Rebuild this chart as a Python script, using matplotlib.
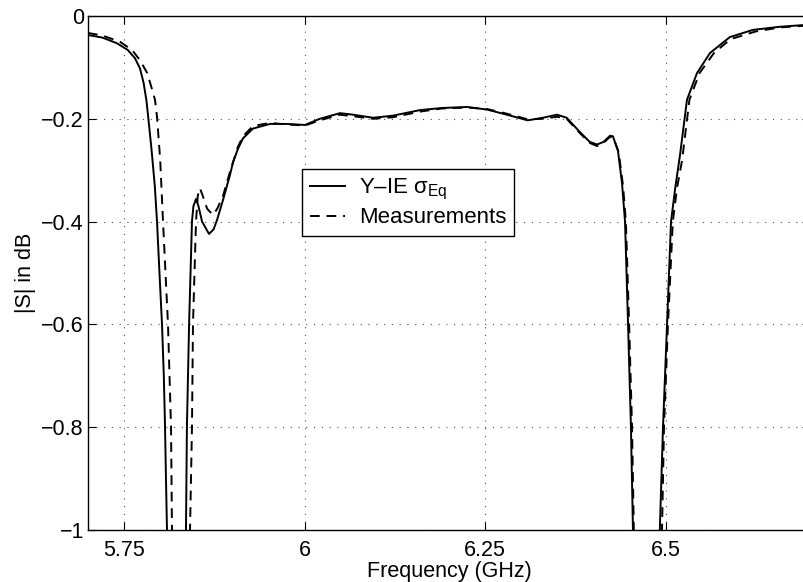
import matplotlib
matplotlib.use("Agg")
import matplotlib.pyplot as plt

plt.rcParams['font.family'] = ['Liberation Sans', 'DejaVu Sans']
plt.rcParams['mathtext.fontset'] = 'custom'
plt.rcParams['mathtext.rm'] = 'Liberation Sans'
plt.rcParams['mathtext.it'] = 'Liberation Sans:italic'

# Y-IE sigma_Eq (solid)
f_sim = [5.700, 5.720, 5.740, 5.755, 5.765, 5.772, 5.777, 5.781, 5.784, 5.788,
         5.7925, 5.7956, 5.799, 5.8025, 5.805, 5.8067, 5.808, 5.8094, 5.812, 5.833,
         5.8357, 5.837, 5.840, 5.842, 5.844, 5.846, 5.8496, 5.853, 5.858, 5.8676,
         5.874, 5.8787, 5.887, 5.8967, 5.9008, 5.9078, 5.9147, 5.9285, 5.952, 5.9756,
         6.0006, 6.021, 6.049, 6.067, 6.095, 6.122, 6.160, 6.190, 6.225, 6.2526,
         6.280, 6.309, 6.330, 6.3496, 6.363, 6.3814, 6.395, 6.405, 6.414, 6.423,
         6.427, 6.434, 6.4396, 6.4438, 6.448, 6.452, 6.4548, 6.457, 6.490, 6.492,
         6.4964, 6.502, 6.5075, 6.5135, 6.520, 6.5296, 6.5435, 6.5615, 6.589, 6.621,
         6.658, 6.692]
s_sim = [-0.037, -0.042, -0.053, -0.066, -0.082, -0.102, -0.130, -0.165, -0.205, -0.260,
         -0.33, -0.40, -0.50, -0.60, -0.70, -0.80, -0.90, -1.00, -1.20, -1.20,
         -1.00, -0.80, -0.60, -0.50, -0.40, -0.37, -0.356, -0.37, -0.40, -0.424,
         -0.415, -0.397, -0.358, -0.309, -0.285, -0.258, -0.238, -0.219, -0.210, -0.210,
         -0.212, -0.200, -0.189, -0.192, -0.198, -0.194, -0.183, -0.179, -0.177, -0.182,
         -0.192, -0.203, -0.198, -0.192, -0.198, -0.226, -0.245, -0.250, -0.245, -0.233,
         -0.234, -0.262, -0.325, -0.40, -0.60, -0.80, -1.00, -1.20, -1.20, -1.00,
         -0.80, -0.60, -0.40, -0.333, -0.270, -0.163, -0.111, -0.072, -0.041, -0.027,
         -0.021, -0.0175]

# Measurements (dashed)
f_meas = [5.700, 5.720, 5.744, 5.761, 5.772, 5.782, 5.789, 5.7928, 5.7956, 5.800,
          5.8039, 5.8108, 5.815, 5.8163, 5.818, 5.839, 5.8413, 5.844, 5.8454, 5.8475,
          5.8496, 5.852, 5.855, 5.859, 5.865, 5.873, 5.879, 5.887, 5.8967, 5.9078,
          5.9147, 5.9285, 5.952, 5.9756, 6.0006, 6.021, 6.049, 6.067, 6.095, 6.122,
          6.160, 6.190, 6.225, 6.2526, 6.280, 6.309, 6.330, 6.3496, 6.363, 6.3814,
          6.395, 6.405, 6.414, 6.423, 6.428, 6.435, 6.441, 6.445, 6.4495, 6.4535,
          6.456, 6.458, 6.493, 6.495, 6.4978, 6.5033, 6.510, 6.516, 6.5229, 6.533,
          6.547, 6.567, 6.590, 6.625, 6.660, 6.692]
s_meas = [-0.033, -0.038, -0.050, -0.066, -0.086, -0.111, -0.144, -0.163, -0.196, -0.28,
          -0.40, -0.60, -0.80, -1.00, -1.20, -1.20, -1.00, -0.80, -0.60, -0.50,
          -0.40, -0.35, -0.335, -0.35, -0.375, -0.387, -0.375, -0.35, -0.303, -0.254,
          -0.234, -0.214, -0.208, -0.211, -0.213, -0.203, -0.192, -0.195, -0.200, -0.197,
          -0.186, -0.180, -0.178, -0.181, -0.190, -0.201, -0.200, -0.196, -0.200, -0.228,
          -0.247, -0.253, -0.247, -0.235, -0.238, -0.265, -0.33, -0.40, -0.60, -0.80,
          -1.00, -1.20, -1.20, -1.00, -0.80, -0.60, -0.40, -0.333, -0.28, -0.163,
          -0.111, -0.072, -0.045, -0.030, -0.022, -0.019]

xticks = [5.75, 6.0, 6.25, 6.5]
xticklabels = ['5.75', '6', '6.25', '6.5']
yticks = [0, -0.2, -0.4, -0.6, -0.8, -1.0]
yticklabels = ['0', '\u22120.2', '\u22120.4', '\u22120.6', '\u22120.8', '\u22121']

fig = plt.figure(figsize=(8.04, 5.82), dpi=100)
ax = fig.add_axes([88/804, 52/582, 722/804, 514/582])

ax.plot(f_sim, s_sim, color='black', lw=1.4, linestyle='-', label='Y\u2013IE \u03c3$_{\\mathrm{Eq}}$')
ax.plot(f_meas, s_meas, color='black', lw=1.4, linestyle=(0, (5, 3.5)), label='Measurements')

ax.set_xlim(5.7, 6.7)
ax.set_ylim(-1, 0)
ax.set_xticks(xticks)
ax.set_xticklabels(xticklabels)
ax.set_yticks(yticks)
ax.set_yticklabels(yticklabels)
ax.tick_params(direction='in', length=6, width=0.8, top=True, right=True,
               labelsize=15.5)
ax.tick_params(axis='x', pad=7)
ax.tick_params(axis='y', pad=3)
ax.grid(True, color='0.3', lw=0.8, linestyle=(0, (1, 6)))
for sp in ax.spines.values():
    sp.set_linewidth(1.0)

ax.set_xlabel('Frequency (GHz)', fontsize=15.5, labelpad=0)
ax.set_ylabel('|S| in dB', fontsize=15.5, labelpad=4)

leg = ax.legend(loc='upper left', bbox_to_anchor=((302 - 88) / 722, 1 - (169 - 16) / 514),
                fontsize=16, frameon=True, fancybox=False, shadow=False,
                handlelength=1.6, handletextpad=0.6, borderpad=0.35,
                labelspacing=0.25, borderaxespad=0)
leg.get_frame().set_edgecolor('black')
leg.get_frame().set_linewidth(1.0)
leg.get_frame().set_alpha(1)

fig.savefig('out.png', dpi=100)
